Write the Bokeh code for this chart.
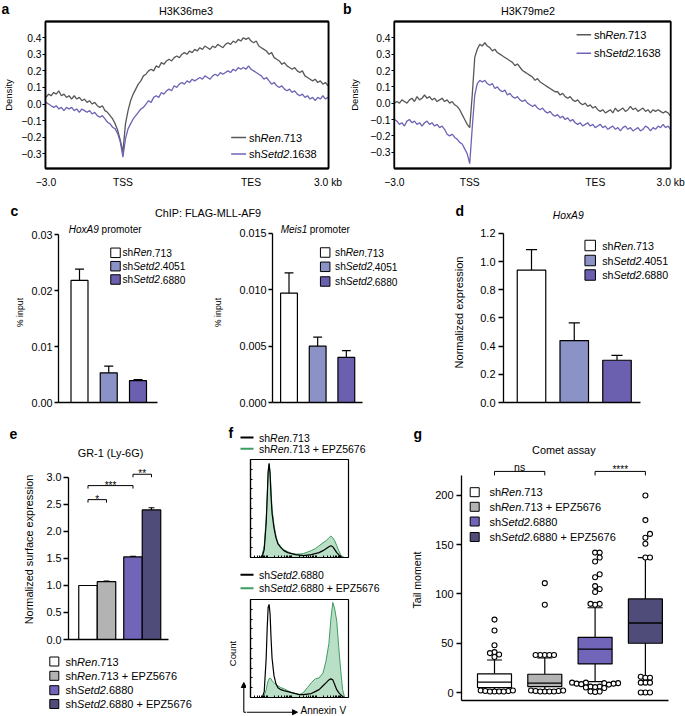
import math
from bokeh.plotting import figure
from bokeh.models import Range1d, Label, Arrow, NormalHead, FixedTicker, BoxAnnotation
from bokeh.core.properties import value
from bokeh.layouts import row, column
from bokeh.embed import file_html
from bokeh.resources import INLINE

# ------------------------------------------------------------------ data
PROFILE_X = [-3.0, -2.9, -2.8, -2.7, -2.6, -2.5, -2.4, -2.3, -2.2, -2.1,
             -2.0, -1.9, -1.8, -1.7, -1.6, -1.5, -1.4, -1.3, -1.2, -1.1,
             -1.0, -0.9, -0.8, -0.7, -0.6, -0.5, -0.4, -0.3, -0.2, -0.1,
             0.0, 0.1, 0.2, 0.3, 0.4, 0.5, 0.6, 0.7, 0.8, 0.9,
             1.0, 1.1, 1.2, 1.3, 1.4, 1.5, 1.6, 1.7, 1.8, 1.9,
             2.0, 2.1, 2.2, 2.3, 2.4, 2.5, 2.6, 2.7, 2.8, 2.9,
             3.0, 3.1, 3.2, 3.3, 3.4, 3.5, 3.6, 3.7, 3.8, 3.9,
             4.0, 4.1, 4.2, 4.3, 4.4, 4.5, 4.6, 4.7, 4.8, 4.9,
             5.0, 5.1, 5.2, 5.3, 5.4, 5.5, 5.6, 5.7, 5.8, 5.9,
             6.0, 6.1, 6.2, 6.3, 6.4, 6.5, 6.6, 6.7, 6.8, 6.9,
             7.0, 7.1, 7.2, 7.3, 7.4, 7.5, 7.6, 7.7, 7.8, 7.9, 8.0]
PROFILE_TICKS = [-3, 0, 5, 8]
PROFILE_TICK_LABELS = ["\u22123.0", "TSS", "TES", "3.0 kb"]
DENS_TICKS = [-0.3, -0.2, -0.1, 0.0, 0.1, 0.2, 0.3, 0.4]
DENS_LABELS = ["\u22120.3", "\u22120.2", "\u22120.1", "0.0", "0.1", "0.2", "0.3", "0.4"]
PROFILE_SERIES = ["shRen.713", "shSetd2.1638"]

A_REN = [0.04, 0.06, 0.05, 0.07, 0.06, 0.08, 0.05, 0.06, 0.04, 0.05,
         0.03, 0.05, 0.03, 0.04, 0.02, 0.03, 0.01, 0.02, 0.00, 0.01,
         -0.01, -0.02, -0.01, -0.04, -0.05, -0.07, -0.09, -0.12, -0.16, -0.22,
         -0.29, -0.12, -0.04, 0.02, 0.06, 0.09, 0.12, 0.14, 0.17, 0.18,
         0.20, 0.21, 0.20, 0.23, 0.22, 0.25, 0.24, 0.26, 0.27, 0.26,
         0.28, 0.29, 0.28, 0.30, 0.31, 0.30, 0.32, 0.31, 0.33, 0.32,
         0.34, 0.33, 0.35, 0.34, 0.33, 0.35, 0.34, 0.36, 0.35, 0.34,
         0.36, 0.37, 0.36, 0.38, 0.37, 0.39, 0.38, 0.40, 0.39, 0.40,
         0.38, 0.37, 0.38, 0.35, 0.34, 0.33, 0.32, 0.30, 0.31, 0.28,
         0.27, 0.26, 0.24, 0.25, 0.23, 0.22, 0.21, 0.22, 0.20, 0.19,
         0.20, 0.17, 0.16, 0.15, 0.14, 0.15, 0.13, 0.14, 0.12, 0.13, 0.11]
A_SETD2 = [0.01, 0.00, -0.01, -0.02, -0.01, -0.03, -0.02, -0.04, -0.02, -0.03,
           -0.02, -0.04, -0.03, -0.05, -0.03, -0.04, -0.05, -0.04, -0.06, -0.05,
           -0.07, -0.08, -0.07, -0.09, -0.11, -0.12, -0.14, -0.15, -0.18, -0.23,
           -0.32, -0.21, -0.15, -0.12, -0.09, -0.07, -0.05, -0.03, -0.02, 0.00,
           0.02, 0.01, 0.04, 0.05, 0.04, 0.07, 0.06, 0.08, 0.09, 0.08,
           0.11, 0.10, 0.12, 0.13, 0.12, 0.14, 0.13, 0.15, 0.14, 0.15,
           0.16, 0.15, 0.17, 0.16, 0.15, 0.17, 0.18, 0.17, 0.19, 0.18,
           0.19, 0.20, 0.19, 0.21, 0.20, 0.22, 0.21, 0.22, 0.21, 0.23,
           0.21, 0.20, 0.19, 0.18, 0.17, 0.15, 0.16, 0.14, 0.12, 0.13,
           0.11, 0.10, 0.11, 0.09, 0.08, 0.09, 0.07, 0.08, 0.06, 0.05,
           0.06, 0.04, 0.05, 0.03, 0.04, 0.02, 0.04, 0.03, 0.05, 0.03, 0.04]
B_REN = [0.00, 0.01, 0.00, 0.02, 0.01, 0.00, 0.02, 0.03, 0.01, 0.04,
         0.02, 0.03, 0.05, 0.03, 0.04, 0.02, 0.03, 0.01, 0.02, 0.03,
         0.01, 0.02, 0.00, 0.01, -0.01, -0.02, -0.04, -0.07, -0.10, -0.13,
         -0.15, 0.05, 0.28, 0.33, 0.36, 0.35, 0.37, 0.35, 0.34, 0.32,
         0.33, 0.31, 0.30, 0.29, 0.28, 0.27, 0.26, 0.25, 0.23, 0.24,
         0.22, 0.20, 0.19, 0.18, 0.17, 0.16, 0.14, 0.15, 0.13, 0.12,
         0.11, 0.10, 0.09, 0.08, 0.07, 0.07, 0.05, 0.06, 0.04, 0.03,
         0.04, 0.02, 0.01, 0.02, 0.00, -0.01, 0.00, -0.02, -0.01, -0.03,
         -0.02, -0.04, -0.05, -0.04, -0.06, -0.05, -0.04, -0.06, -0.03, -0.05,
         -0.04, -0.03, -0.05, -0.04, -0.02, -0.04, -0.03, -0.05, -0.04, -0.03,
         -0.05, -0.04, -0.06, -0.04, -0.05, -0.04, -0.05, -0.06, -0.05, -0.06, -0.08]
B_SETD2 = [-0.10, -0.11, -0.13, -0.12, -0.14, -0.11, -0.10, -0.12, -0.11, -0.13,
           -0.12, -0.14, -0.12, -0.11, -0.13, -0.12, -0.14, -0.13, -0.15, -0.14,
           -0.16, -0.19, -0.20, -0.19, -0.21, -0.22, -0.24, -0.25, -0.28, -0.31,
           -0.37, -0.15, 0.05, 0.12, 0.14, 0.13, 0.14, 0.12, 0.11, 0.12,
           0.09, 0.10, 0.08, 0.07, 0.08, 0.05, 0.06, 0.04, 0.03, 0.04,
           0.02, 0.01, 0.02, 0.00, -0.01, -0.02, -0.01, -0.03, -0.04, -0.03,
           -0.05, -0.06, -0.05, -0.07, -0.08, -0.07, -0.09, -0.08, -0.10, -0.09,
           -0.11, -0.10, -0.12, -0.13, -0.12, -0.14, -0.13, -0.12, -0.14, -0.13,
           -0.15, -0.14, -0.13, -0.15, -0.14, -0.16, -0.15, -0.14, -0.16, -0.15,
           -0.17, -0.15, -0.14, -0.16, -0.15, -0.17, -0.16, -0.15, -0.17, -0.16,
           -0.14, -0.15, -0.17, -0.15, -0.16, -0.14, -0.15, -0.13, -0.15, -0.14, -0.16]

C_GROUPS = ["shRen.713", "shSetd2.4051", "shSetd2.6880"]
C_HOXA9 = [0.0218, 0.0053, 0.0039]
C_HOXA9_ERR = [0.0020, 0.0012, 0.0002]
C_HOXA9_TICKS = [0.0, 0.01, 0.02, 0.03]
C_HOXA9_LABELS = ["0.00", "0.01", "0.02", "0.03"]
C_MEIS1 = [0.0097, 0.0050, 0.0040]
C_MEIS1_ERR = [0.0018, 0.0008, 0.0006]
C_MEIS1_TICKS = [0.0, 0.005, 0.010, 0.015]
C_MEIS1_LABELS = ["0.000", "0.005", "0.010", "0.015"]

D_HOXA9 = [0.94, 0.44, 0.30]
D_HOXA9_ERR = [0.145, 0.125, 0.035]
D_TICKS = [0.0, 0.2, 0.4, 0.6, 0.8, 1.0, 1.2]
D_LABELS = ["0.0", "0.2", "0.4", "0.6", "0.8", "1.0", "1.2"]

E_GROUPS = ["shRen.713", "shRen.713 + EPZ5676", "shSetd2.6880", "shSetd2.6880 + EPZ5676"]
E_PAIR = [0, 0, 1, 1]
E_GR1 = [1.00, 1.07, 1.53, 2.40]
E_GR1_ERR = [0.0, 0.012, 0.012, 0.04]
E_TICKS = [0.0, 0.5, 1.0, 1.5, 2.0, 2.5, 3.0]
E_LABELS = ["0.0", "0.5", "1.0", "1.5", "2.0", "2.5", "3.0"]
E_SIG = [("*", 0, 1, 2.59), ("***", 0, 2, 2.85), ("**", 2, 3, 3.06)]

F_BINS = [0, 10, 12, 14, 16, 17, 18, 19, 20, 21, 22, 24, 26, 28, 31, 34, 38, 42, 46, 50,
          54, 58, 62, 66, 70, 74, 77, 80, 82, 84, 86, 88, 90, 92, 94, 96, 100]
F_TOP_CTRL = [0, 0, 0.01, 0.08, 0.35, 0.6, 0.88, 0.96, 0.85, 0.62, 0.45, 0.3, 0.2, 0.14, 0.1,
              0.07, 0.05, 0.04, 0.03, 0.025, 0.02, 0.025, 0.03, 0.04, 0.05, 0.07, 0.09, 0.11,
              0.12, 0.11, 0.08, 0.05, 0.03, 0.01, 0, 0, 0]
F_TOP_EPZ = [0, 0, 0.03, 0.12, 0.4, 0.62, 0.85, 0.95, 0.88, 0.68, 0.5, 0.33, 0.22, 0.15, 0.11,
             0.08, 0.06, 0.04, 0.035, 0.035, 0.04, 0.055, 0.07, 0.09, 0.12, 0.15, 0.17, 0.2,
             0.22, 0.2, 0.17, 0.12, 0.07, 0.03, 0.01, 0, 0]
F_BOT_CTRL = [0, 0, 0, 0.06, 0.4, 0.7, 0.92, 0.95, 0.85, 0.6, 0.4, 0.22, 0.14, 0.1, 0.08,
              0.07, 0.06, 0.05, 0.04, 0.03, 0.03, 0.035, 0.04, 0.06, 0.08, 0.12, 0.15, 0.18,
              0.19, 0.18, 0.13, 0.08, 0.05, 0.03, 0.01, 0, 0]
F_BOT_EPZ = [0, 0, 0, 0.02, 0.08, 0.13, 0.17, 0.19, 0.2, 0.19, 0.17, 0.15, 0.13, 0.12, 0.1,
             0.09, 0.07, 0.05, 0.04, 0.03, 0.05, 0.1, 0.15, 0.19, 0.2, 0.25, 0.37, 0.55,
             0.8, 0.97, 0.9, 0.78, 0.52, 0.28, 0.08, 0, 0]
F_TOP_SERIES = ["shRen.713", "shRen.713 + EPZ5676"]
F_BOT_SERIES = ["shSetd2.6880", "shSetd2.6880 + EPZ5676"]

G_Q1 = [5, 6, 29, 50]
G_MED = [10.5, 9.5, 44, 70.5]
G_Q3 = [19, 18.5, 56, 95]
G_LO = [3, 3, 11, 15.5]
G_HI = [33, 35, 86, 137]
G_OUT = [
    [74, 63, 48, 41, 40, 38.5, 36, 2, 1.5, 1, 1, 1.5, 1, 2, 1],
    [111, 89, 38, 38, 38, 38, 38, 2, 1.5, 1, 1, 1.5, 1, 2, 1],
    [142, 142, 137, 133, 120, 117, 108, 105, 102, 90, 89, 90,
     10, 10, 9.5, 9.5, 9, 9, 8.5, 8, 6, 6, 5.5, 5, 4.5, 1, 1, 0.5],
    [200, 175, 161, 157, 151, 137, 137, 16, 15, 15, 10, 10, 10, 0, 0, 0],
]
G_TICKS = [0, 50, 100, 150, 200]
G_LABELS = ["0", "50", "100", "150", "200"]

# ------------------------------------------------------------------ style
FONT = "Liberation Sans"
REN_LINE = "#585858"
SETD2_LINE = "#6c64b5"
LAV = "#8a92c6"
PURP = "#6b60b0"
GRAY_BAR = "#b3b3b3"
PURP2 = "#7065b8"
DARK = "#4f4c7a"
GREEN_FILL = "#b3dcc1"
GREEN_LINE = "#3d9c60"
BOX_COLOR = "#111111"
LETTER = 14

_W = {ch: 556 for ch in "0123456789"}
_W.update({' ': 278, '+': 584, '.': 278, '-': 333, '(': 333, ')': 333, ':': 278, '%': 889,
           '*': 389, '\u2212': 584,
           'A': 667, 'B': 667, 'C': 722, 'D': 722, 'E': 667, 'F': 611, 'G': 778, 'H': 722,
           'I': 278, 'J': 500, 'K': 667, 'L': 556, 'M': 833, 'N': 722, 'O': 778, 'P': 667,
           'Q': 778, 'R': 722, 'S': 667, 'T': 611, 'U': 722, 'V': 667, 'W': 944, 'X': 667,
           'Y': 667, 'Z': 611, 'a': 556, 'b': 556, 'c': 500, 'd': 556, 'e': 556, 'f': 278,
           'g': 556, 'h': 556, 'i': 222, 'j': 222, 'k': 500, 'l': 222, 'm': 833, 'n': 556,
           'o': 556, 'p': 556, 'q': 556, 'r': 333, 's': 500, 't': 278, 'u': 556, 'v': 500,
           'w': 722, 'x': 500, 'y': 500, 'z': 500})


def tw(s, size):
    return sum(_W.get(ch, 556) for ch in s) * size / 1000.0


def fpx(size):
    return f"{size:.2f}px"


def parts_of(label):
    for gene in ("Setd2", "Ren"):
        if label.startswith("sh" + gene):
            return [("sh", False), (gene, True), (label[2 + len(gene):], False)]
    return [(label, False)]


class Panel:
    """A figure whose outer box and plotting frame are given in page pixels."""

    def __init__(self, outer, frame=None, xr=(0, 1), yr=(0, 1), xaxis=False, yaxis=False):
        frame = frame or outer
        x0, y0, x1, y1 = outer
        fx0, fy0, fx1, fy1 = frame
        self.fr = frame
        self.xr = xr
        self.yr = yr
        p = figure(width=int(x1 - x0), height=int(y1 - y0),
                   x_range=Range1d(*xr), y_range=Range1d(*yr),
                   output_backend="svg", toolbar_location=None,
                   x_axis_location="below" if xaxis else None,
                   y_axis_location="left" if yaxis else None,
                   min_border_left=int(fx0 - x0), min_border_right=int(x1 - fx1),
                   min_border_top=int(fy0 - y0), min_border_bottom=int(y1 - fy1))
        try:
            if "frame_align" in p.properties():
                p.frame_align = False
        except Exception:
            pass
        p.grid.visible = False
        p.outline_line_color = None
        p.background_fill_color = "white"
        p.border_fill_color = "white"
        self.p = p

    def X(self, rx):
        fx0, _, fx1, _ = self.fr
        return self.xr[0] + (rx - fx0) * (self.xr[1] - self.xr[0]) / (fx1 - fx0)

    def Y(self, ry):
        _, fy0, _, fy1 = self.fr
        return self.yr[0] + (fy1 - ry) * (self.yr[1] - self.yr[0]) / (fy1 - fy0)

    def DX(self, d):
        return d * (self.xr[1] - self.xr[0]) / (self.fr[2] - self.fr[0])

    def DY(self, d):
        return d * (self.yr[1] - self.yr[0]) / (self.fr[3] - self.fr[1])

    def lab(self, xd, yd, text, size, style="normal", align="left", baseline="middle",
            angle=0.0, color="black"):
        self.p.add_layout(Label(x=xd, y=yd, text=text, text_font=FONT, text_font_size=fpx(size),
                                text_font_style=style, text_align=align, text_baseline=baseline,
                                angle=angle, text_color=color))

    def text(self, rx, ry, text, size, **kw):
        self.lab(self.X(rx), self.Y(ry), text, size, **kw)

    def _pieces(self, rx, parts, size, align):
        total = sum(tw(t, size) for t, _ in parts)
        x = rx - total / 2 if align == "center" else rx
        out = []
        for t, it in parts:
            lead = len(t) - len(t.lstrip(" "))
            out.append((x + tw(" " * lead, size), t.strip(" "), it))
            x += tw(t, size)
        return out

    def rich(self, rx, ry, parts, size, align="left", baseline="middle"):
        for x, t, it in self._pieces(rx, parts, size, align):
            self.text(x, ry, t, size, style="italic" if it else "normal", baseline=baseline)

    def grich(self, rx, ry, parts, size, align="left"):
        """Same as rich(), drawn with text glyphs instead of annotations."""
        for x, t, it in self._pieces(rx, parts, size, align):
            self.p.text(x=[self.X(x)], y=[self.Y(ry)], text=[t], text_font=value(FONT),
                        text_font_size=value(fpx(size)),
                        text_font_style="italic" if it else "normal",
                        text_align="left", text_baseline="middle", text_color="black")

    def hline(self, rx0, rx1, ry, color="black", width=1.2):
        self.p.segment(x0=[self.X(rx0)], y0=[self.Y(ry)], x1=[self.X(rx1)], y1=[self.Y(ry)],
                       line_color=color, line_width=width)


def style_axis(ax, ticks, labels=None, size=10.5, tick_out=4, standoff=2, lw=1.2, bounds=None,
               label=None, label_size=10.5, label_standoff=3, tick_in=0, line=True):
    ax.ticker = FixedTicker(ticks=list(ticks))
    if labels is not None:
        ax.major_label_overrides = {t: l for t, l in zip(ticks, labels)}
    ax.axis_line_color = "black" if line else None
    ax.axis_line_width = lw
    ax.major_tick_line_color = "black"
    ax.major_tick_line_width = lw
    ax.major_tick_out = int(tick_out)
    ax.major_tick_in = int(tick_in)
    ax.minor_tick_line_color = None
    ax.major_label_text_font = FONT
    ax.major_label_text_font_size = fpx(size)
    ax.major_label_text_color = "black"
    ax.major_label_standoff = int(standoff)
    if bounds is not None:
        ax.bounds = bounds
    if label is not None:
        ax.axis_label = label
        ax.axis_label_text_font = FONT
        ax.axis_label_text_font_size = fpx(label_size)
        ax.axis_label_text_font_style = "normal"
        ax.axis_label_text_color = "black"
        ax.axis_label_standoff = int(label_standoff)


# ------------------------------------------------------------------ row 1 : a / b
hdr1 = Panel((0, 0, 685, 18))
hdr1.text(1, 8.6, "a", LETTER, style="bold")
hdr1.text(185.5, 10, "H3K36me3", 10.8, align="center")
hdr1.text(342.5, 8.6, "b", LETTER, style="bold")
hdr1.text(527.5, 10, "H3K79me2", 10.8, align="center")

PAD = 3  # frame extends this many px beyond the drawn box on each side


def profile_panel(outer, box, box_xr, box_yr, ren, setd2, ylab_standoff, leg_x0, leg_y):
    bx0, by0, bx1, by1 = box
    sx = (box_xr[1] - box_xr[0]) / (bx1 - bx0)
    sy = (box_yr[1] - box_yr[0]) / (by1 - by0)
    frame = (bx0 - PAD, by0 - PAD, bx1 + PAD, by1 + PAD)
    xr = (box_xr[0] - PAD * sx, box_xr[1] + PAD * sx)
    yr = (box_yr[0] - PAD * sy, box_yr[1] + PAD * sy)
    pn = Panel(outer, frame, xr, yr, xaxis=True, yaxis=True)
    p = pn.p
    p.line(PROFILE_X, ren, line_color=REN_LINE, line_width=1.3)
    p.line(PROFILE_X, setd2, line_color=SETD2_LINE, line_width=1.3)
    # box around the plotting area, drawn several ways so that one of them shows
    bl, br, bb, bt = box_xr[0], box_xr[1], box_yr[0], box_yr[1]
    hw, hh = 0.65 * sx, 0.65 * sy
    p.quad(left=[bl - hw, br - hw, bl, bl], right=[bl + hw, br + hw, br, br],
           bottom=[bb, bb, bb - hh, bt - hh], top=[bt, bt, bb + hh, bt + hh],
           fill_color=BOX_COLOR, line_color=None)
    p.multi_line(xs=[[bl, br, br, bl, bl]], ys=[[bb, bb, bt, bt, bb]], line_color=BOX_COLOR,
                 line_width=1.3)
    p.quad(left=[bl], right=[br], bottom=[bb], top=[bt],
           fill_color=None, line_color="black", line_width=1.3)
    p.add_layout(BoxAnnotation(left=bl, right=br, bottom=bb, top=bt,
                               fill_color=None, fill_alpha=0, line_color="black",
                               line_width=1.3, line_alpha=1.0))
    style_axis(p.yaxis[0], DENS_TICKS, DENS_LABELS, size=10.3, tick_out=0, tick_in=PAD,
               standoff=1, lw=1.2, line=False, label="Density", label_size=9.5,
               label_standoff=ylab_standoff)
    style_axis(p.xaxis[0], PROFILE_TICKS, PROFILE_TICK_LABELS, size=10.3, tick_out=0,
               standoff=5, lw=1.2, line=False)
    p.xaxis[0].major_tick_line_color = None
    for name, col, ly in zip(PROFILE_SERIES, [REN_LINE, SETD2_LINE], leg_y):
        pn.hline(leg_x0, leg_x0 + 15, ly, color=col, width=1.5)
        pn.grich(leg_x0 + 18, ly, parts_of(name), 11)
    return pn


pa = profile_panel((0, 18, 346, 196), (43, 21, 328, 168), (-3.02, 8.02), (-0.389, 0.498),
                   A_REN, A_SETD2, 4, 230, [137, 153.5])
pb = profile_panel((346, 18, 685, 196), (385, 21, 670, 168), (-3.0, 8.0), (-0.40, 0.50),
                   B_REN, B_SETD2, 7, 573, [34.3, 52.7])

# ------------------------------------------------------------------ row 2 : c / d
hdr2 = Panel((0, 196, 685, 222))
hdr2.text(10, 210, "c", LETTER, style="bold")
hdr2.text(207.5, 212, "ChIP: FLAG-MLL-AF9", 10.8, align="center")
hdr2.text(455, 210.5, "d", LETTER, style="bold")
hdr2.text(567.7, 214.5, "HoxA9", 10.3, style="italic", align="center")


def bar_panel(pn, vals, errs, colors, bar_w, cap_w, yticks, ylabels, ybounds, xbounds,
              tick_size, tick_out, standoff, ylabel, ylabel_size, ylabel_standoff, positions=None):
    p = pn.p
    pos = positions if positions is not None else list(range(len(vals)))
    p.vbar(x=pos, width=bar_w, top=vals, bottom=0, fill_color=colors,
           line_color="black", line_width=1.2)
    tops = [v + e for v, e in zip(vals, errs)]
    p.segment(x0=pos, y0=vals, x1=pos, y1=tops, line_color="black", line_width=1.2)
    p.segment(x0=[x - cap_w / 2 for x in pos], y0=tops, x1=[x + cap_w / 2 for x in pos], y1=tops,
              line_color="black", line_width=1.2)
    style_axis(p.yaxis[0], yticks, ylabels, size=tick_size, tick_out=tick_out,
               standoff=standoff, lw=1.3, bounds=ybounds, label=ylabel, label_size=ylabel_size,
               label_standoff=ylabel_standoff)
    style_axis(p.xaxis[0], [], None, size=1, tick_out=0, standoff=0, lw=1.3, bounds=xbounds)
    return pos


def square_legend(pn, sx, rows, names, colors, size, text_x, font):
    pn.p.scatter(x=[pn.X(sx)] * len(rows), y=[pn.Y(r) for r in rows], marker="square",
                 size=size, fill_color=colors, line_color="black", line_width=1)
    for name, r in zip(names, rows):
        pn.rich(text_x, r, parts_of(name), font)


C_COLORS = ["white", LAV, PURP]
pc1 = Panel((0, 222, 210, 409), (58, 222, 205, 402), (-0.718, 4.308), (0, 0.032143),
            xaxis=True, yaxis=True)
bar_panel(pc1, C_HOXA9, C_HOXA9_ERR, C_COLORS, 0.581, 0.31, C_HOXA9_TICKS, C_HOXA9_LABELS,
          (0, 0.03), (-0.718, 2.667), 10.8, 4, 2, "% input", 8.8, 3)
pc1.rich(68.3, 228.5, [("HoxA9", True), (" promoter", False)], 10)
square_legend(pc1, 115, [252.3, 265.7, 279], C_GROUPS, C_COLORS, 9.5, 122, 10.2)

pc2 = Panel((210, 222, 445, 409), (270, 222, 440, 402), (-0.576, 5.286), (0, 0.015976),
            xaxis=True, yaxis=True)
bar_panel(pc2, C_MEIS1, C_MEIS1_ERR, C_COLORS, 0.586, 0.31, C_MEIS1_TICKS, C_MEIS1_LABELS,
          (0, 0.015), (-0.576, 2.562), 10.8, 4, 2, "% input", 8.8, 13)
pc2.rich(278.3, 228.5, [("Meis1", True), (" promoter", False)], 10)
square_legend(pc2, 323.3, [252, 266.3, 281], C_GROUPS, C_COLORS, 9.5, 333.3, 10.2)

pd = Panel((445, 222, 685, 409), (503, 222, 680, 402), (-0.655, 3.485), (0, 1.2781),
           xaxis=True, yaxis=True)
bar_panel(pd, D_HOXA9, D_HOXA9_ERR, C_COLORS, 0.667, 0.26, D_TICKS, D_LABELS,
          (0, 1.2), (-0.655, 2.55), 11, 5, 3, "Normalized expression", 11, 12)
square_legend(pd, 589.7, [245, 260, 274.5], C_GROUPS, C_COLORS, 10.5, 601.7, 10.7)

# ------------------------------------------------------------------ row 3 header
F_LEG_FONT = 10.5
hdr3 = Panel((0, 409, 685, 459))
hdr3.text(9, 433, "e", LETTER, style="bold")
hdr3.text(110, 452.5, "GR-1 (Ly-6G)", 10.9, align="center")
hdr3.text(228, 432.5, "f", LETTER, style="bold")
for name, col, ly in zip(F_TOP_SERIES, ["black", GREEN_LINE], [437, 448.3]):
    hdr3.hline(240, 253, ly, color=col, width=2)
    hdr3.rich(258.5, ly, parts_of(name), F_LEG_FONT)
hdr3.text(413, 433, "g", LETTER, style="bold")
hdr3.text(563.3, 449, "Comet assay", 10.9, align="center")

# ------------------------------------------------------------------ e
E_COLORS = ["white", GRAY_BAR, PURP2, DARK]
E_GAP = 0.432
E_POS = [i + E_GAP * g for i, g in enumerate(E_PAIR)]
pe = Panel((0, 459, 215, 650), (68, 459, 210, 639), (-1.054, 6.622), (0, 3.3333),
           xaxis=True, yaxis=True)
bar_panel(pe, E_GR1, E_GR1_ERR, E_COLORS, 1.0, 0.32, E_TICKS, E_LABELS, (0, 3.0),
          (-1.054, 4.351), 10.8, 5, 2, "Normalized surface expression", 10.9, 8, positions=E_POS)
drop = pe.DY(3)
for txt, i, j, h in E_SIG:
    xi, xj = E_POS[i], E_POS[j]
    pe.p.segment(x0=[xi, xi, xj], y0=[h - drop, h, h - drop], x1=[xi, xj, xj], y1=[h, h, h],
                 line_color="black", line_width=1)
    pe.lab((xi + xj) / 2, h + pe.DY(0.5), txt, 10, align="center", baseline="alphabetic")

pel = Panel((0, 650, 215, 716))
square_legend(pel, 53.8, [661, 675.3, 689.7, 703.5], E_GROUPS, E_COLORS, 9, 65, 11)

# ------------------------------------------------------------------ f
F_RIGHT = 384
F_TICKS_X = [d + 25 * math.log10(k) for d in [-8, 17, 42, 67] for k in range(1, 10)] + [92]
F_TICKS_X = [t for t in F_TICKS_X if 0 < t < 100]
F_TICKS_Y = [0.1, 0.2, 0.3, 0.4, 0.5, 0.6, 0.7, 0.8, 0.9]


def hist_panel(outer, frame, ctrl, epz):
    pn = Panel(outer, frame, (0, 100), (0, 1.0), xaxis=True, yaxis=True)
    p = pn.p
    p.outline_line_color = "black"
    p.outline_line_width = 1.2
    p.varea(x=F_BINS, y1=0, y2=epz, fill_color=GREEN_FILL, fill_alpha=0.9)
    p.line(F_BINS, epz, line_color=GREEN_LINE, line_width=1)
    p.line(F_BINS, ctrl, line_color="black", line_width=1.2)
    for ax, mt in ((p.xaxis[0], F_TICKS_X), (p.yaxis[0], F_TICKS_Y)):
        ax.ticker = FixedTicker(ticks=[], minor_ticks=mt)
        ax.minor_tick_in = 2
        ax.minor_tick_out = 0
        ax.minor_tick_line_color = "black"
        ax.major_tick_in = 0
        ax.major_tick_out = 0
        ax.major_label_standoff = 0
        ax.axis_line_color = "black"
        ax.axis_line_width = 1.2
    return pn


pf1 = hist_panel((215, 459, F_RIGHT, 562), (250, 459, 348, 557), F_TOP_CTRL, F_TOP_EPZ)

fmid = Panel((215, 562, F_RIGHT, 597))
for name, col, ly in zip(F_BOT_SERIES, ["black", GREEN_LINE], [574.3, 587.7]):
    fmid.hline(240, 253, ly, color=col, width=2)
    fmid.rich(258.5, ly, parts_of(name), F_LEG_FONT)

fleft = Panel((215, 597, 246, 716))
head = dict(size=5, fill_color="black", line_color="black", line_width=1)
fleft.p.add_layout(Arrow(end=NormalHead(**head), x_start=fleft.X(243.3), y_start=fleft.Y(711.7),
                         x_end=fleft.X(243.3), y_end=fleft.Y(682), line_color="black",
                         line_width=1.1))
fleft.hline(243.3, 246, 711.7, width=1.1)
fleft.text(231.5, 653, "Count", 9.5, align="center", angle=math.pi / 2)

pf2 = hist_panel((246, 597, F_RIGHT, 700), (250, 599, 348, 697), F_BOT_CTRL, F_BOT_EPZ)

fbot = Panel((246, 700, F_RIGHT, 716))
fbot.p.add_layout(Arrow(end=NormalHead(**head), x_start=fbot.X(246), y_start=fbot.Y(711.7),
                        x_end=fbot.X(297), y_end=fbot.Y(711.7), line_color="black",
                        line_width=1.1))
fbot.text(300, 709.5, "Annexin V", 10)

# ------------------------------------------------------------------ g
pg = Panel((F_RIGHT, 459, 685, 716), (461, 459, 680, 700), (0.344, 4.698), (-8.12, 236.5),
           xaxis=True, yaxis=True)
p = pg.p
G_COLORS = ["white", GRAY_BAR, PURP2, DARK]
G_POS = [1, 2, 3, 4]
BOX_W = 0.676
CAP_W = 0.3
p.segment(x0=G_POS, y0=G_Q3, x1=G_POS, y1=G_HI, line_color="black", line_width=1.2)
p.segment(x0=G_POS, y0=G_LO, x1=G_POS, y1=G_Q1, line_color="black", line_width=1.2)
p.segment(x0=[x - CAP_W / 2 for x in G_POS], y0=G_HI, x1=[x + CAP_W / 2 for x in G_POS], y1=G_HI,
          line_color="black", line_width=1.2)
p.segment(x0=[x - CAP_W / 2 for x in G_POS], y0=G_LO, x1=[x + CAP_W / 2 for x in G_POS], y1=G_LO,
          line_color="black", line_width=1.2)
p.vbar(x=G_POS, width=BOX_W, bottom=G_Q1, top=G_Q3, fill_color=G_COLORS, line_color="black",
       line_width=1.2)
p.segment(x0=[x - BOX_W / 2 for x in G_POS], y0=G_MED, x1=[x + BOX_W / 2 for x in G_POS], y1=G_MED,
          line_color="black", line_width=1.4)


def swarm_offsets(values, y_scale, min_d):
    placed = []
    offs = [0.0] * len(values)
    steps = [0.0]
    for k in range(1, 16):
        steps += [k * min_d / 2, -k * min_d / 2]
    for i in sorted(range(len(values)), key=lambda i: values[i]):
        y = values[i] * y_scale
        for s in steps:
            if all((s - a) ** 2 + (y - b) ** 2 >= min_d ** 2 - 1e-9 for a, b in placed):
                break
        placed.append((s, y))
        offs[i] = s
    return offs


y_scale = 1.0 / pg.DY(1)
ox, oy = [], []
for x, vals in zip(G_POS, G_OUT):
    offs = swarm_offsets(vals, y_scale, 4.6)
    ox += [x + pg.DX(o) for o in offs]
    oy += vals
p.scatter(x=ox, y=oy, marker="circle", size=5, fill_color="white", line_color="black",
          line_width=1.1)
style_axis(p.yaxis[0], G_TICKS, G_LABELS, size=11, tick_out=5, standoff=3, lw=1.3,
           bounds=(-8.12, 220), label="Tail moment", label_size=10.6, label_standoff=9)
style_axis(p.xaxis[0], [], None, size=1, tick_out=0, standoff=0, lw=1.3, bounds=(0.344, 4.457))
square_legend(pg, 474.2, [491.7, 506.3, 521, 536.5], E_GROUPS, G_COLORS, 9, 489, 11)
bh = 224.4
bd = pg.DY(4)
for (i, j, txt, is_star) in [(0, 1, "ns", False), (2, 3, "****", True)]:
    xi, xj = G_POS[i], G_POS[j]
    p.segment(x0=[xi, xi, xj], y0=[bh - bd, bh, bh - bd], x1=[xi, xj, xj], y1=[bh, bh, bh],
              line_color="black", line_width=1)
    if is_star:
        pg.lab((xi + xj) / 2, bh + pg.DY(2), txt, 10, align="center", baseline="alphabetic")
    else:
        pg.lab((xi + xj) / 2, bh + pg.DY(4), txt, 10.5, align="center", baseline="alphabetic")

# ------------------------------------------------------------------ layout
col_e = column(row(pe.p), row(pel.p))
col_f = column(row(pf1.p), row(fmid.p), row(fleft.p, column(row(pf2.p), row(fbot.p))))
layout = column(
    hdr1.p,
    row(pa.p, pb.p),
    hdr2.p,
    row(pc1.p, pc2.p, pd.p),
    hdr3.p,
    row(col_e, col_f, pg.p),
)

open("out.html", "w").write(file_html(layout, INLINE))
